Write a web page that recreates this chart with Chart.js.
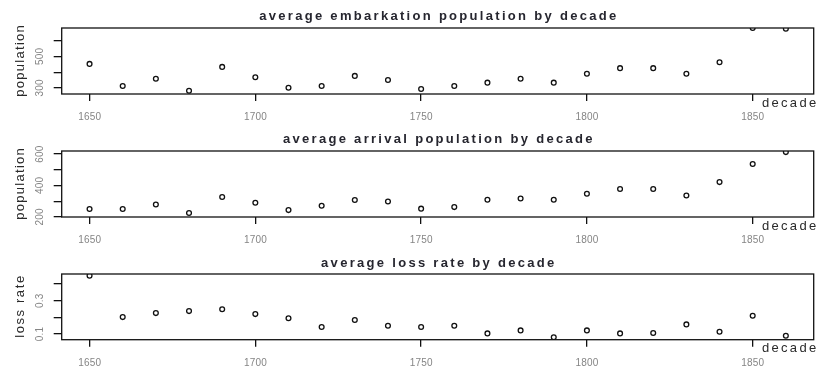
<!DOCTYPE html>
<html>
<head>
<meta charset="utf-8">
<script src="https://cdn.jsdelivr.net/npm/chart.js@4/dist/chart.umd.min.js"></script>
<style>
  html, body { margin: 0; padding: 0; background: #fff; }
  #wrap { position: relative; width: 819px; height: 371px; overflow: hidden; background: #fff; }
  canvas.panel { position: absolute; left: 0; }
</style>
</head>
<body>
<div id="wrap">
  <canvas id="embark" class="panel" width="819" height="123" style="top:0px"></canvas>
  <canvas id="arrive" class="panel" width="819" height="123" style="top:123px"></canvas>
  <canvas id="loss" class="panel" width="819" height="125" style="top:246px"></canvas>
</div>
<script>
// Decades covered by the voyages
const decades = [1650, 1660, 1670, 1680, 1690, 1700, 1710, 1720, 1730, 1740, 1750,
                 1760, 1770, 1780, 1790, 1800, 1810, 1820, 1830, 1840, 1850, 1860];

// Average number of people embarked per voyage
const embarkation = [453, 313, 359, 283, 434, 368, 302, 313, 377, 351, 294,
                     313, 334, 359, 334, 391, 426, 426, 391, 464, 681, 677];

// Average number of people arriving per voyage
const arrival = [251, 251, 280, 225, 327, 291, 244, 272, 308, 299, 253,
                 263, 310, 318, 310, 348, 378, 378, 337, 422, 537, 613];

// Average share lost during the crossing
const lossRate = [0.451, 0.202, 0.226, 0.238, 0.249, 0.220, 0.195, 0.142, 0.184, 0.150, 0.142,
                  0.150, 0.104, 0.122, 0.080, 0.122, 0.104, 0.106, 0.158, 0.114, 0.210, 0.090];

// Axis ticks and the labels printed beside them
const yearTicks = [1650, 1700, 1750, 1800, 1850];
const embarkTicks = [300, 400, 500, 600];
const embarkTickLabels = ['300', '', '500', ''];
const arrivalTicks = [200, 300, 400, 500, 600];
const arrivalTickLabels = ['200', '', '400', '', '600'];
const lossTicks = [0.1, 0.2, 0.3, 0.4];
const lossTickLabels = ['0.1', '', '0.3', ''];

const FONT = '"Liberation Sans", Arial, sans-serif';

// Draw a string with extra spacing between letters
function spacedText(ctx, text, x, y, spacing, align) {
  let total = 0;
  const widths = [];
  for (const ch of text) { const w = ctx.measureText(ch).width; widths.push(w); total += w; }
  total += spacing * (widths.length - 1);
  let cx = align === 'center' ? x - total / 2 : (align === 'right' ? x - total : x);
  ctx.textAlign = 'left';
  let i = 0;
  for (const ch of text) { ctx.fillText(ch, cx, y); cx += widths[i++] + spacing; }
}

// Frame, titles and axis labels in base-graphics style
const decorations = {
  id: 'decorations',
  afterDraw(chart) {
    const o = chart.options.plugins.decorations;
    const { ctx, chartArea: a } = chart;
    const xs = chart.scales.x, ys = chart.scales.y;
    ctx.save();

    // plot frame
    ctx.strokeStyle = '#111';
    ctx.lineWidth = 1.3;
    ctx.strokeRect(a.left, a.top, a.right - a.left, a.bottom - a.top);

    // main title
    ctx.fillStyle = '#26262f';
    ctx.font = 'bold 13px ' + FONT;
    ctx.textBaseline = 'alphabetic';
    spacedText(ctx, o.title, (a.left + a.right) / 2, o.titleBaseline, 2.3, 'center');

    // x tick labels
    ctx.fillStyle = '#858585';
    ctx.font = '10px ' + FONT;
    xs.ticks.forEach(t => {
      spacedText(ctx, String(t.value), xs.getPixelForValue(t.value), a.bottom + 26, 0.2, 'center');
    });

    // y tick labels, rotated
    ys.ticks.forEach((t, i) => {
      const label = o.yLabels[i];
      if (!label) return;
      ctx.save();
      ctx.translate(43, ys.getPixelForValue(t.value));
      ctx.rotate(-Math.PI / 2);
      spacedText(ctx, label, 0, 0, 0.2, 'center');
      ctx.restore();
    });

    // y axis title
    ctx.fillStyle = '#2a2a2a';
    ctx.font = '13px ' + FONT;
    ctx.save();
    ctx.translate(24, (a.top + a.bottom) / 2);
    ctx.rotate(-Math.PI / 2);
    spacedText(ctx, o.yTitle, 0, 0, o.yTitleSpacing, 'center');
    ctx.restore();

    // x axis title
    spacedText(ctx, 'decade', 762, a.bottom + 12.5, 2.3, 'left');

    ctx.restore();
  }
};

function makePanel(id, values, yMin, yMax, yTicks, yLabels, title, yTitle, yTitleSpacing, xHeight, titleBaseline) {
  return new Chart(document.getElementById(id), {
    type: 'scatter',
    data: {
      datasets: [{
        data: decades.map((d, i) => ({ x: d, y: values[i] })),
        pointStyle: 'circle',
        pointRadius: 2.4,
        pointBorderWidth: 1.3,
        borderColor: '#111',
        backgroundColor: 'rgba(0,0,0,0)',
        clip: 0
      }]
    },
    plugins: [decorations],
    options: {
      responsive: false,
      devicePixelRatio: 1,
      animation: false,
      events: [],
      layout: { padding: { top: 28, right: 4.7, left: 0, bottom: 0 } },
      plugins: {
        legend: { display: false },
        tooltip: { enabled: false },
        decorations: { title, yTitle, yTitleSpacing, yLabels, titleBaseline }
      },
      scales: {
        x: {
          type: 'linear',
          min: 1641.6,
          max: 1868.4,
          afterBuildTicks: s => { s.ticks = yearTicks.map(v => ({ value: v })); },
          afterFit: s => { s.height = xHeight; },
          grid: { drawOnChartArea: false, drawTicks: true, tickLength: 7, color: '#111', lineWidth: 1.3 },
          border: { display: false },
          ticks: { display: false }
        },
        y: {
          type: 'linear',
          min: yMin,
          max: yMax,
          afterBuildTicks: s => { s.ticks = yTicks.map(v => ({ value: v })); },
          afterFit: s => { s.width = 61.7; },
          grid: { drawOnChartArea: false, drawTicks: true, tickLength: 8, color: '#111', lineWidth: 1.3 },
          border: { display: false },
          ticks: { display: false }
        }
      }
    }
  });
}

makePanel('embark', embarkation, 262, 681, embarkTicks, embarkTickLabels,
  'average embarkation population by decade', 'population', 1.3, 29, 19.5);
makePanel('arrive', arrival, 200, 620, arrivalTicks, arrivalTickLabels,
  'average arrival population by decade', 'population', 1.3, 29, 19.5);
makePanel('loss', lossRate, 0.066, 0.461, lossTicks, lossTickLabels,
  'average loss rate by decade', 'loss rate', 1.6, 31.3, 21);
</script>
</body>
</html>
